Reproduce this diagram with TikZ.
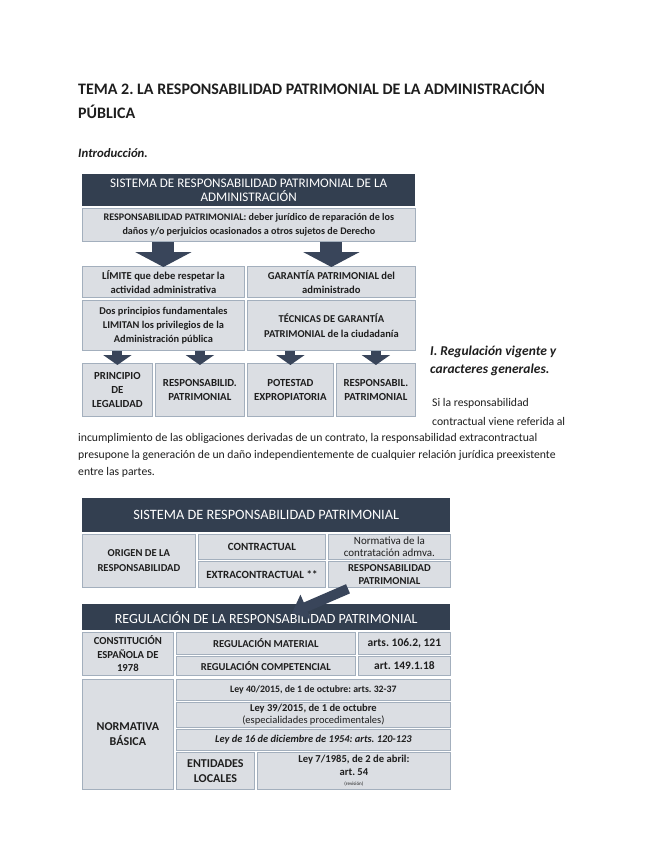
\documentclass[tikz,border=0pt]{standalone}
\usepackage{fontspec}
\setmainfont{Carlito}
\usepackage{tikz}
\usetikzlibrary{arrows.meta,calc,positioning}
\definecolor{navy}{HTML}{333F50}
\definecolor{flowc}{HTML}{39455A}
\definecolor{cellfill}{HTML}{DBDEE3}
\definecolor{cellline}{HTML}{A3AFBD}
\definecolor{ink}{HTML}{1E1E1E}
\tikzset{
  pagetext/.style={anchor=west,inner sep=0pt,text=ink},
  headbox/.style={fill=navy,text=white,anchor=north west,inner sep=0pt,align=center},
  cellbox/.style={draw=cellline,fill=cellfill,line width=.8pt,anchor=north west,inner sep=0pt,align=center,text=ink},
  bigflow/.style={draw=flowc,line width=22pt,-{Triangle[length=15pt,width=56pt]}},
  smallflow/.style={draw=flowc,line width=10pt,-{Triangle[length=10pt,width=28pt]}}
}

\begin{document}
\frenchspacing
\begin{tikzpicture}[x=1pt,y=-1pt]
  \useasboundingbox[fill=white] (0,0) rectangle (655,848);
  % page text
  \node[pagetext,font=\fontsize{16}{18}\selectfont\bfseries] (title) at (78,88) {TEMA 2. LA RESPONSABILIDAD PATRIMONIAL DE LA ADMINISTRACIÓN};
  \node[pagetext,font=\fontsize{16}{18}\selectfont\bfseries] (title2) at (78,112) {PÚBLICA};
  \node[pagetext,font=\fontsize{12.8}{15}\selectfont\bfseries\itshape] (intro) at (78,153) {Introducción.};
  \node[pagetext,font=\fontsize{13.5}{17}\selectfont\bfseries\itshape] (reg1) at (430,352) {I. Regulación vigente y};
  \node[pagetext,font=\fontsize{13.5}{17}\selectfont\bfseries\itshape] (reg2) at (430,370) {caracteres generales.};
  \node[pagetext,font=\fontsize{11.7}{14}\selectfont] (par1) at (432,403) {Si la responsabilidad};
  \node[pagetext,font=\fontsize{11.7}{14}\selectfont] (par2) at (432,421) {contractual viene referida al};
  \node[pagetext,font=\fontsize{11.7}{14}\selectfont] (par3) at (78,438) {incumplimiento de las obligaciones derivadas de un contrato, la responsabilidad extracontractual};
  \node[pagetext,font=\fontsize{11.7}{14}\selectfont] (par4) at (78,455) {presupone la generación de un daño independientemente de cualquier relación jurídica preexistente};
  \node[pagetext,font=\fontsize{11.7}{14}\selectfont] (par5) at (78,472) {entre las partes.};

  % first diagram
  \node[headbox,minimum width=333pt,minimum height=32pt,font=\fontsize{13.1}{14.5}\selectfont] (head1) at (82,174) {SISTEMA DE RESPONSABILIDAD PATRIMONIAL DE LA\\ADMINISTRACIÓN};
  \node[cellbox,minimum width=333pt,minimum height=33pt,font=\fontsize{10.1}{13.5}\selectfont\bfseries] (resp) at (82,208) {RESPONSABILIDAD PATRIMONIAL: deber jurídico de reparación de los\\daños y/o perjuicios ocasionados a otros sujetos de Derecho};
  \node[cellbox,minimum width=162pt,minimum height=31pt,font=\fontsize{10.6}{14}\selectfont\bfseries] (limite) at (82,266) {LÍMITE que debe respetar la\\actividad administrativa};
  \node[cellbox,minimum width=168pt,minimum height=31pt,font=\fontsize{10.6}{14}\selectfont\bfseries] (garantia) at (247,266) {GARANTÍA PATRIMONIAL del\\administrado};
  \node[cellbox,minimum width=162pt,minimum height=50pt,font=\fontsize{10.4}{14}\selectfont\bfseries] (dosprin) at (82,300) {Dos principios fundamentales\\LIMITAN los privilegios de la\\Administración pública};
  \node[cellbox,minimum width=168pt,minimum height=50pt,font=\fontsize{10.5}{15}\selectfont\bfseries] (tecnicas) at (247,300) {TÉCNICAS DE GARANTÍA\\PATRIMONIAL de la ciudadanía};
  \node[cellbox,minimum width=70pt,minimum height=53pt,font=\fontsize{10.8}{14}\selectfont\bfseries] (legalidad) at (82,363) {PRINCIPIO\\DE\\LEGALIDAD};
  \node[cellbox,minimum width=89pt,minimum height=53pt,font=\fontsize{10.8}{14}\selectfont\bfseries] (respA) at (155,363) {RESPONSABILID.\\PATRIMONIAL};
  \node[cellbox,minimum width=86pt,minimum height=53pt,font=\fontsize{10.8}{14}\selectfont\bfseries] (potestad) at (247,363) {POTESTAD\\EXPROPIATORIA};
  \node[cellbox,minimum width=79pt,minimum height=53pt,font=\fontsize{10.8}{14}\selectfont\bfseries] (respB) at (336,363) {RESPONSABIL.\\PATRIMONIAL};
  \draw[bigflow] (resp.south -| limite.north) -- ([yshift=-1pt]limite.north);
  \draw[bigflow] (resp.south -| garantia.north) -- ([yshift=-1pt]garantia.north);
  \draw[smallflow] (dosprin.south -| legalidad.north) -- ([yshift=-2pt]legalidad.north);
  \draw[smallflow] (dosprin.south -| respA.north) -- ([yshift=-2pt]respA.north);
  \draw[smallflow] (tecnicas.south -| potestad.north) -- ([yshift=-2pt]potestad.north);
  \draw[smallflow] (tecnicas.south -| respB.north) -- ([yshift=-2pt]respB.north);

  % second diagram
  \node[headbox,minimum width=368pt,minimum height=34pt,font=\fontsize{14.3}{16}\selectfont] (head2) at (82,498) {SISTEMA DE RESPONSABILIDAD PATRIMONIAL};
  \node[cellbox,minimum width=113pt,minimum height=53pt,font=\fontsize{10.6}{15}\selectfont\bfseries] (origen) at (82,534) {ORIGEN DE LA\\RESPONSABILIDAD};
  \node[cellbox,minimum width=127pt,minimum height=25pt,font=\fontsize{11}{13}\selectfont\bfseries] (contractual) at (198,534) {CONTRACTUAL};
  \node[cellbox,minimum width=127pt,minimum height=26pt,font=\fontsize{11}{13}\selectfont\bfseries] (extra) at (198,561) {EXTRACONTRACTUAL **};
  \node[cellbox,minimum width=122pt,minimum height=25pt,font=\fontsize{11}{12.5}\selectfont] (normativa) at (328,534) {Normativa de la\\contratación admva.};
  \node[cellbox,minimum width=122pt,minimum height=26pt,font=\fontsize{10.6}{13.5}\selectfont\bfseries] (respC) at (328,561) {RESPONSABILIDAD\\PATRIMONIAL};
  \node[headbox,minimum width=368pt,minimum height=26pt,font=\fontsize{14}{16}\selectfont] (head3) at (82,604) {REGULACIÓN DE LA RESPONSABILIDAD PATRIMONIAL};
  \draw[draw=flowc,line width=10pt,-{Triangle[length=15pt,width=26pt]}] ([xshift=20pt,yshift=-1pt]respC.south west) -- ([xshift=210pt,yshift=-9pt]head3.north west);
  \node[cellbox,minimum width=91pt,minimum height=43pt,font=\fontsize{10.7}{13.5}\selectfont\bfseries] (constit) at (82,632) {CONSTITUCIÓN\\ESPAÑOLA DE\\1978};
  \node[cellbox,minimum width=179pt,minimum height=22pt,font=\fontsize{10.6}{12}\selectfont\bfseries] (material) at (176,632) {REGULACIÓN MATERIAL};
  \node[cellbox,minimum width=92pt,minimum height=22pt,font=\fontsize{11.5}{13}\selectfont\bfseries] (artsA) at (358,632) {arts. 106.2, 121};
  \node[cellbox,minimum width=179pt,minimum height=19pt,font=\fontsize{10.6}{12}\selectfont\bfseries] (competencial) at (176,656) {REGULACIÓN COMPETENCIAL};
  \node[cellbox,minimum width=92pt,minimum height=19pt,font=\fontsize{11.5}{13}\selectfont\bfseries] (artsB) at (358,656) {art. 149.1.18};
  \node[cellbox,minimum width=91pt,minimum height=110pt,font=\fontsize{12}{15}\selectfont\bfseries] (normbas) at (82,679) {NORMATIVA\\BÁSICA};
  \node[cellbox,minimum width=274pt,minimum height=21pt,font=\fontsize{9.8}{11}\selectfont\bfseries] (ley40) at (176,679) {Ley 40/2015, de 1 de octubre: arts. 32-37};
  \node[cellbox,minimum width=274pt,minimum height=25pt,font=\fontsize{10.5}{11.5}\selectfont] (ley39) at (176,702) {\textbf{Ley 39/2015, de 1 de octubre}\\(especialidades procedimentales)};
  \node[cellbox,minimum width=274pt,minimum height=21pt,font=\fontsize{10.4}{12}\selectfont\bfseries\itshape] (ley1954) at (176,729) {Ley de 16 de diciembre de 1954: arts. 120-123};
  \node[cellbox,minimum width=78pt,minimum height=37pt,font=\fontsize{12}{15}\selectfont\bfseries] (entidades) at (176,752) {ENTIDADES\\LOCALES};
  \node[cellbox,minimum width=193pt,minimum height=37pt,font=\fontsize{10.6}{12.5}\selectfont\bfseries] (ley7) at (257,752) {Ley 7/1985, de 2 de abril:\\art. 54\\[-2pt]{\mdseries\fontsize{5}{6}\selectfont (revisión)}};
\end{tikzpicture}
\end{document}
